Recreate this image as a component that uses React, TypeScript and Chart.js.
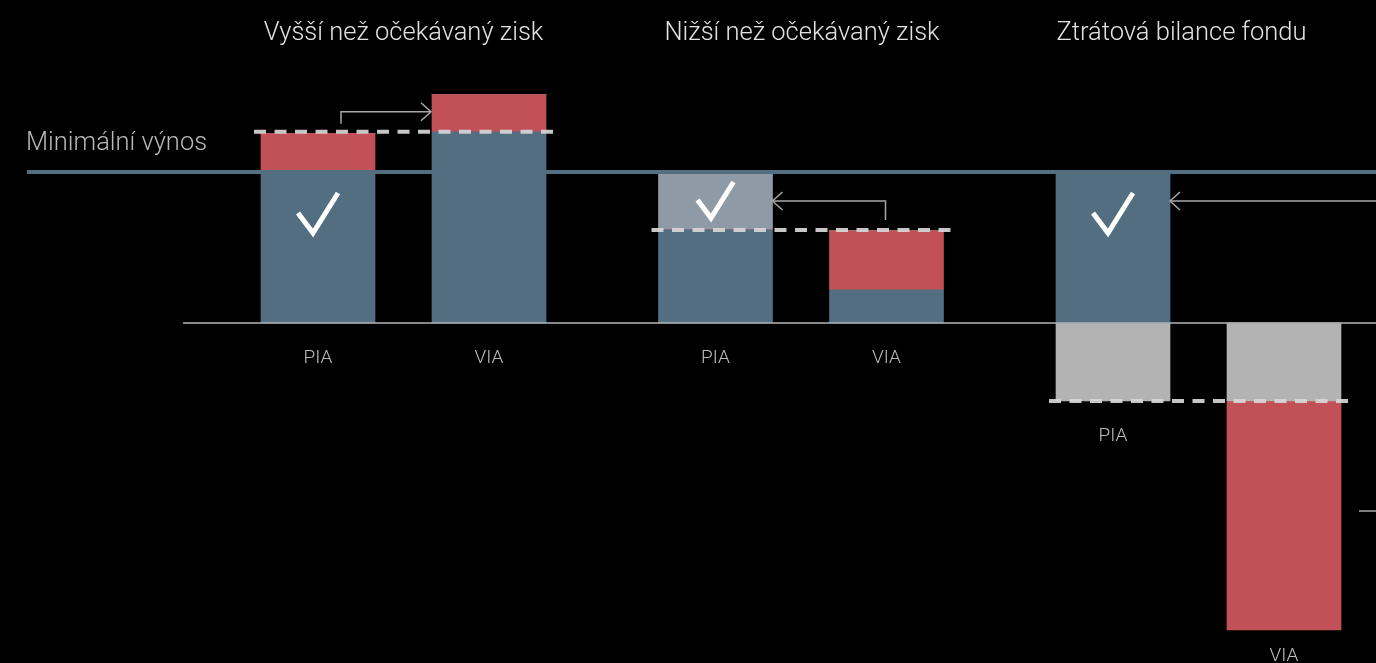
import React, { useEffect, useRef } from "react";
import { Chart, registerables } from "chart.js";

Chart.register(...registerables);

// ---- Data ----
const GROUP_TITLES = ["Vyšší než očekávaný zisk", "Nižší než očekávaný zisk", "Ztrátová bilance fondu"];
const BAR_LABELS = ["PIA", "VIA"];
const MIN_RETURN_LABEL = "Minimální výnos";
const MIN_RETURN = 3;
// per bar: [G1 PIA, G1 VIA, G2 PIA, G2 VIA, G3 PIA, G3 VIA]
const BASE_RETURN = [3.0, 3.8, 1.85, 0.66, 3.0, 0];
const EXCESS_RETURN = [0.77, 0.74, 0, 1.17, 0, 0];
const COVERED_SHORTFALL = [0, 0, 1.15, 0, 0, 0];
const SHARED_LOSS = [0, 0, 0, 0, -1.55, -1.55];
const EXTRA_LOSS = [0, 0, 0, 0, 0, -4.55];
const REFERENCE_LEVEL = [3.8, 1.85, -1.55];
const GUARANTEED = [true, false, true, false, true, false];

// ---- Layout / style ----
const W = 1376;
const H = 663;
const ZERO_PX = 323;
const PX_PER_UNIT = 151 / MIN_RETURN;
const BAR_STEP_PX = 171;
const GROUP_STEP = 397.5 / BAR_STEP_PX;
const FIRST_BAR_PX = 318;
const BAR_W = 114;
const TITLE_SHIFT = [0, 1, -17];

const BLUE = "#526e80";
const RED = "#c25157";
const LIGHT = "#8e9ba7";
const GRAY = "#b3b3b3";
const FONT = "Roboto, 'Noto Sans', sans-serif";

const xPos = (i: number) => Math.floor(i / 2) * GROUP_STEP + (i % 2);
const series = (arr: number[]) => arr.map((v, i) => ({ x: xPos(i), y: v }));

const overlay = {
  id: "overlay",
  afterDatasetsDraw(chart: any) {
    const ctx = chart.ctx as CanvasRenderingContext2D;
    const xs = chart.scales.x;
    const ys = chart.scales.y;
    const cx = (i: number) => xs.getPixelForValue(xPos(i));
    const yMin = ys.getPixelForValue(MIN_RETURN);
    const y0 = ys.getPixelForValue(0);
    ctx.save();

    // minimum return line
    ctx.strokeStyle = BLUE;
    ctx.lineWidth = 4;
    ctx.beginPath();
    ctx.moveTo(27, yMin);
    ctx.lineTo(W, yMin);
    ctx.stroke();

    // zero line
    ctx.strokeStyle = "#b4b4b4";
    ctx.lineWidth = 1.6;
    ctx.beginPath();
    ctx.moveTo(183, y0);
    ctx.lineTo(W, y0);
    ctx.stroke();

    // dashed reference lines
    ctx.strokeStyle = "rgba(215,215,215,0.92)";
    ctx.lineWidth = 4;
    ctx.setLineDash([12, 8.5]);
    REFERENCE_LEVEL.forEach((lv, g) => {
      const yy = ys.getPixelForValue(lv);
      ctx.beginPath();
      ctx.moveTo(cx(g * 2) - BAR_W / 2 - 7, yy);
      ctx.lineTo(cx(g * 2 + 1) + BAR_W / 2 + 7, yy);
      ctx.stroke();
    });
    ctx.setLineDash([]);

    // arrows
    ctx.strokeStyle = "#a8a8a8";
    ctx.lineWidth = 1.5;
    const head = (tx: number, ty: number, dir: number) => {
      ctx.beginPath();
      ctx.moveTo(tx - dir * 10, ty - 9);
      ctx.lineTo(tx, ty);
      ctx.lineTo(tx - dir * 10, ty + 9);
      ctx.stroke();
    };
    // group 1: PIA -> VIA
    {
      const yr = ys.getPixelForValue(REFERENCE_LEVEL[0]);
      const sx = cx(0) + 23;
      const tx = cx(1) - BAR_W / 2 - 1;
      ctx.beginPath();
      ctx.moveTo(sx, yr - 8);
      ctx.lineTo(sx, yr - 20);
      ctx.lineTo(tx, yr - 20);
      ctx.stroke();
      head(tx, yr - 20, 1);
    }
    // group 2: VIA -> PIA
    {
      const yr = ys.getPixelForValue(REFERENCE_LEVEL[1]);
      const sx = cx(3) - 1;
      const tx = cx(2) + BAR_W / 2;
      ctx.beginPath();
      ctx.moveTo(sx, yr - 10);
      ctx.lineTo(sx, yMin + 29);
      ctx.lineTo(tx, yMin + 29);
      ctx.stroke();
      head(tx, yMin + 29, -1);
    }
    // group 3: from outside -> PIA
    {
      const tx = cx(4) + BAR_W / 2;
      ctx.beginPath();
      ctx.moveTo(W, yMin + 29);
      ctx.lineTo(tx, yMin + 29);
      ctx.stroke();
      head(tx, yMin + 29, -1);
      const ys2 = ys.getPixelForValue(REFERENCE_LEVEL[2]) + 110;
      ctx.beginPath();
      ctx.moveTo(1359, ys2);
      ctx.lineTo(W, ys2);
      ctx.stroke();
    }

    // check marks
    ctx.strokeStyle = "#ffffff";
    ctx.lineWidth = 5;
    ctx.lineJoin = "miter";
    ctx.lineCap = "butt";
    GUARANTEED.forEach((ok, i) => {
      if (!ok) return;
      const g = Math.floor(i / 2);
      const s = g === 1 ? 0.9 : 1;
      const top = g === 1 ? yMin + 10 : yMin + 21;
      const c = cx(i);
      ctx.beginPath();
      ctx.moveTo(c - 20 * s, top + 20 * s);
      ctx.lineTo(c - 5 * s, top + 40 * s);
      ctx.lineTo(c + 20 * s, top);
      ctx.stroke();
    });

    // bar labels
    ctx.fillStyle = "#bdbdbd";
    ctx.font = `300 19px ${FONT}`;
    ctx.textAlign = "center";
    ctx.textBaseline = "middle";
    BASE_RETURN.forEach((_, i) => {
      const low = Math.min(0, SHARED_LOSS[i] + EXTRA_LOSS[i]);
      const yy = Math.min(ys.getPixelForValue(low) + 35, H - 7);
      ctx.fillText(BAR_LABELS[i % 2], cx(i), yy);
    });

    // group titles
    ctx.fillStyle = "#e2e2e2";
    ctx.font = `300 25.5px ${FONT}`;
    GROUP_TITLES.forEach((t, g) => {
      ctx.fillText(t, (cx(g * 2) + cx(g * 2 + 1)) / 2 + TITLE_SHIFT[g], 34);
    });

    // min return label
    ctx.fillStyle = "#b8b8b8";
    ctx.textAlign = "left";
    ctx.fillText(MIN_RETURN_LABEL, 26, 144);

    ctx.restore();
  },
};

export default function App() {
  const ref = useRef<HTMLCanvasElement | null>(null);
  useEffect(() => {
    document.body.style.margin = "0";
    document.body.style.background = "#000";
    if (!ref.current) return;
    const mk = (label: string, data: number[], color: string) => ({
      label,
      data: series(data),
      backgroundColor: color,
      borderWidth: 0,
      barThickness: BAR_W,
    });
    const chart = new Chart(ref.current, {
      type: "bar",
      data: {
        datasets: [
          mk("Základní výnos", BASE_RETURN, BLUE),
          mk("Nadvýnos", EXCESS_RETURN, RED),
          mk("Krytý výpadek", COVERED_SHORTFALL, LIGHT),
          mk("Sdílená ztráta", SHARED_LOSS, GRAY),
          mk("Ztráta", EXTRA_LOSS, RED),
        ] as any,
      },
      options: {
        responsive: false,
        animation: false,
        devicePixelRatio: 1,
        layout: { padding: 0 },
        plugins: { legend: { display: false }, tooltip: { enabled: false }, title: { display: false } },
        scales: {
          x: {
            type: "linear",
            display: false,
            stacked: true,
            offset: false,
            min: -FIRST_BAR_PX / BAR_STEP_PX,
            max: (W - FIRST_BAR_PX) / BAR_STEP_PX,
          },
          y: {
            display: false,
            stacked: true,
            min: -(H - ZERO_PX) / PX_PER_UNIT,
            max: ZERO_PX / PX_PER_UNIT,
          },
        },
      },
      plugins: [overlay],
    });
    return () => chart.destroy();
  }, []);
  return (
    <div style={{ position: "fixed", left: 0, top: 0, width: W, height: H, background: "#000" }}>
      <canvas ref={ref} width={W} height={H} style={{ display: "block", width: W, height: H }} />
    </div>
  );
}
